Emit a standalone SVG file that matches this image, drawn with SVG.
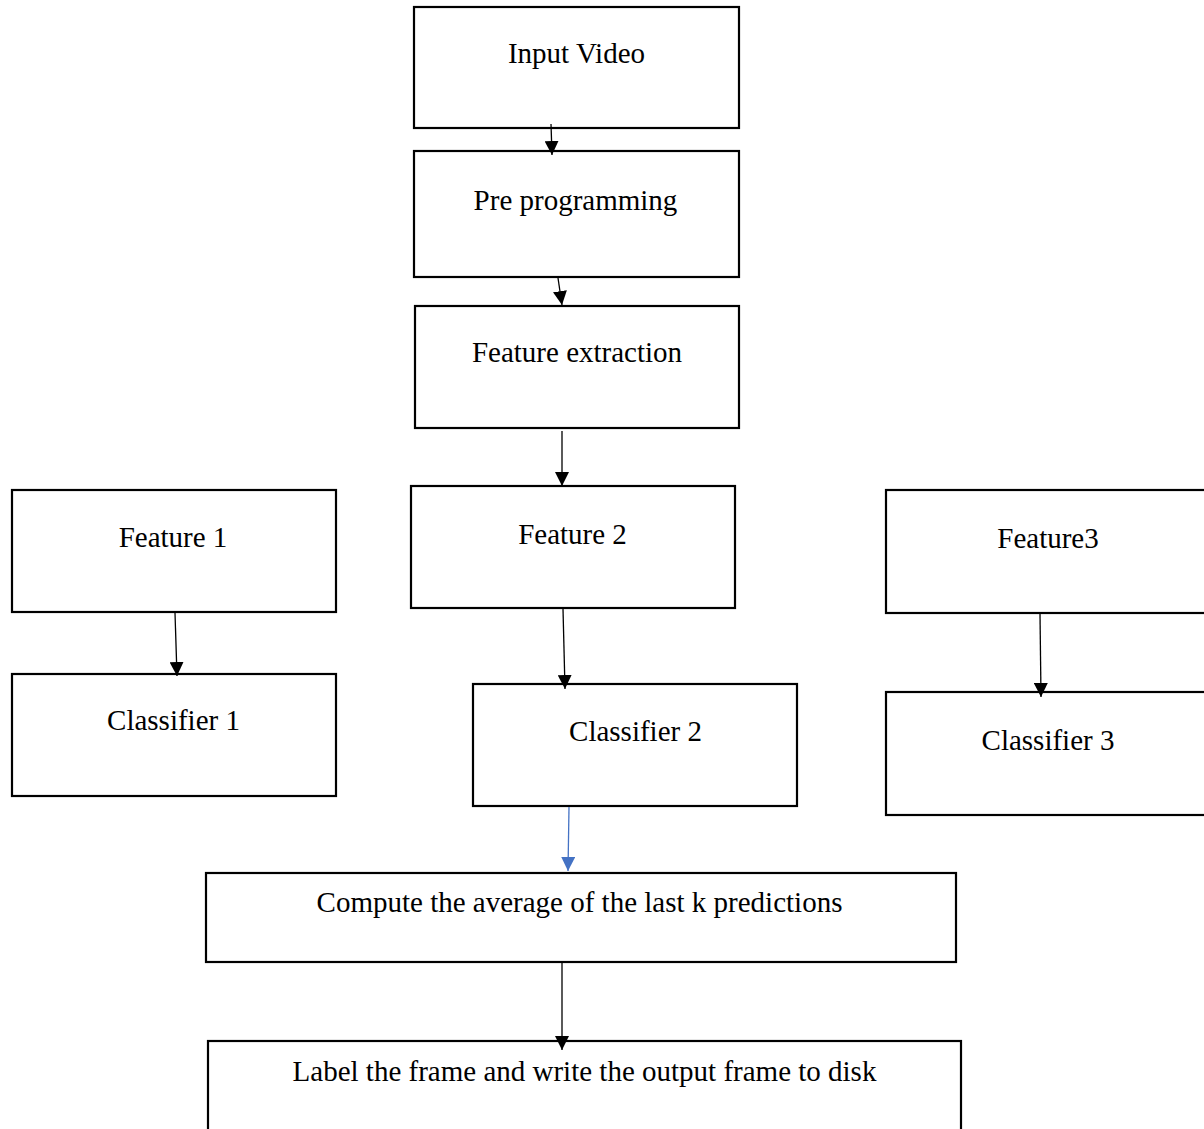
<svg xmlns="http://www.w3.org/2000/svg" width="1204" height="1129" viewBox="0 0 1204 1129">
<style>
.box{fill:#fff;stroke:#000;stroke-width:2.2}
.t{font-family:"Liberation Serif","Times New Roman",serif;font-size:29px;fill:#000;text-anchor:middle}
.c{stroke:#000;stroke-width:1.3;fill:none}
.cb{stroke:#4472C4;stroke-width:1.3;fill:none}
</style>
<defs>
<marker id="ah" viewBox="0 0 10 10" refX="10" refY="5" markerWidth="14" markerHeight="14" markerUnits="userSpaceOnUse" orient="auto">
<path d="M0,0 L10,5 L0,10 Z" fill="#000"/>
</marker>
<marker id="ahb" viewBox="0 0 10 10" refX="10" refY="5" markerWidth="14" markerHeight="14" markerUnits="userSpaceOnUse" orient="auto">
<path d="M0,0 L10,5 L0,10 Z" fill="#4472C4"/>
</marker>
</defs>
<rect width="1204" height="1129" fill="#fff"/>
<g id="input"><rect class="box" x="414" y="7" width="325" height="121"/><text class="t" x="576.5" y="63">Input Video</text></g>
<g id="pre"><rect class="box" x="414" y="151" width="325" height="126"/><text class="t" x="575.5" y="210">Pre programming</text></g>
<g id="featext"><rect class="box" x="415" y="306" width="324" height="122"/><text class="t" x="577" y="362">Feature extraction</text></g>
<g id="f1"><rect class="box" x="12" y="490" width="324" height="122"/><text class="t" x="173" y="547">Feature 1</text></g>
<g id="f2"><rect class="box" x="411" y="486" width="324" height="122"/><text class="t" x="572.5" y="544">Feature 2</text></g>
<g id="f3"><rect class="box" x="886" y="490" width="330" height="123"/><text class="t" x="1048" y="548">Feature3</text></g>
<g id="c1"><rect class="box" x="12" y="674" width="324" height="122"/><text class="t" x="173.5" y="730">Classifier 1</text></g>
<g id="c2"><rect class="box" x="473" y="684" width="324" height="122"/><text class="t" x="635.5" y="741">Classifier 2</text></g>
<g id="c3"><rect class="box" x="886" y="692" width="330" height="123"/><text class="t" x="1048" y="750">Classifier 3</text></g>
<g id="avg"><rect class="box" x="206" y="873" width="750" height="89"/><text class="t" x="579.5" y="912">Compute the average of the last k predictions</text></g>
<g id="label"><rect class="box" x="208" y="1041" width="753" height="100"/><text class="t" x="584.5" y="1081">Label the frame and write the output frame to disk</text></g>
<g id="connectors">
<line class="c" x1="551" y1="124" x2="552" y2="155" marker-end="url(#ah)"/>
<line class="c" x1="558" y1="278" x2="562" y2="305" marker-end="url(#ah)"/>
<line class="c" x1="562" y1="431" x2="562" y2="486" marker-end="url(#ah)"/>
<line class="c" x1="175" y1="613" x2="177" y2="676" marker-end="url(#ah)"/>
<line class="c" x1="563" y1="609" x2="565" y2="689" marker-end="url(#ah)"/>
<line class="c" x1="1040" y1="614" x2="1041" y2="697" marker-end="url(#ah)"/>
<line class="cb" x1="569" y1="807" x2="568" y2="871" marker-end="url(#ahb)"/>
<line class="c" x1="562" y1="963" x2="562" y2="1050" marker-end="url(#ah)"/>
</g>
</svg>
